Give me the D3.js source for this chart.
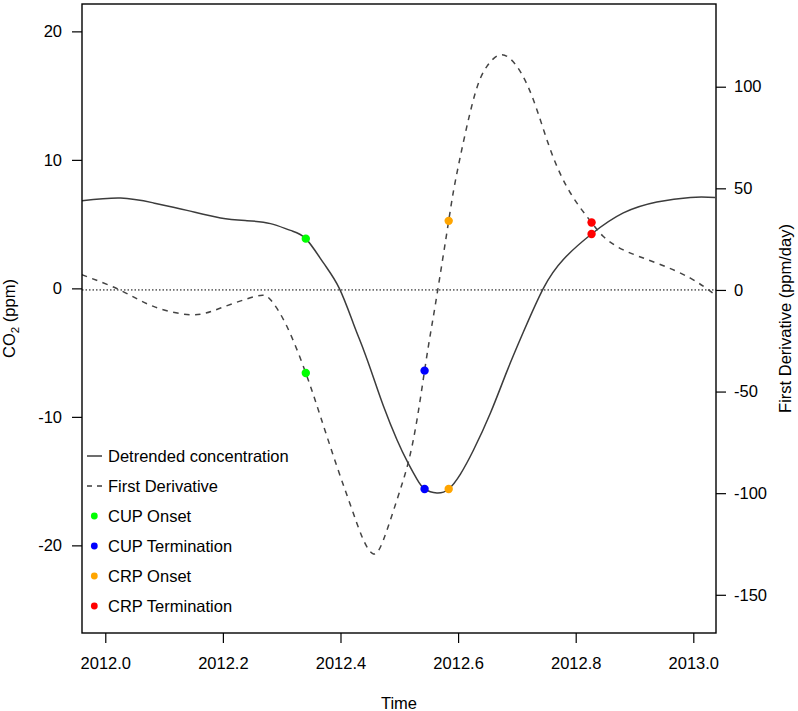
<!DOCTYPE html>
<html>
<head>
<meta charset="utf-8">
<script src="https://cdn.jsdelivr.net/npm/d3@7"></script>
<style>
	body { margin: 0; background: #fff; }
	svg text { font-family: "Liberation Sans", Arial, Helvetica, sans-serif; font-size: 16.5px; fill: #000; }
</style>
</head>
<body>
<svg id="svg"></svg>
<script>
// detrended concentration (ppm)
const concTime = [2011.960, 2012.026, 2012.082, 2012.139, 2012.196, 2012.241, 2012.281, 2012.315,
	2012.341, 2012.371, 2012.398, 2012.422, 2012.439, 2012.456, 2012.473, 2012.496, 2012.515,
	2012.530, 2012.543, 2012.564, 2012.584, 2012.604, 2012.626, 2012.655, 2012.683, 2012.711,
	2012.745, 2012.779, 2012.827, 2012.881, 2012.938, 2012.995, 2013.037];
const concValues = [6.82, 7.03, 6.65, 6.07, 5.48, 5.27, 5.04, 4.51,
	3.87, 1.98, 0.0, -2.75, -4.75, -6.93, -9.15, -11.78, -13.6,
	-14.85, -15.61, -15.92, -15.61, -14.45, -12.6, -9.7, -6.46, -3.4,
	0.0, 2.25, 4.23, 5.87, 6.72, 7.08, 7.08];

// first derivative (ppm/day)
const derivTime = [2011.960, 2012.026, 2012.082, 2012.147, 2012.196, 2012.255, 2012.281, 2012.309,
	2012.341, 2012.366, 2012.394, 2012.422, 2012.439, 2012.456, 2012.473, 2012.496,
	2012.515, 2012.530, 2012.543, 2012.553, 2012.564, 2012.584, 2012.598, 2012.626, 2012.649,
	2012.673, 2012.700, 2012.728, 2012.757, 2012.791, 2012.827, 2012.847, 2012.881, 2012.938,
	2012.995, 2013.037];
const derivValues = [7.5, -0.2, -8.1, -12.2, -8.9, -3.2, -4.8, -18.0,
	-40.9, -62.3, -86.9, -110.0, -123.0, -129.9, -123.0, -103.3,
	-85.2, -64.0, -39.7, -21.5, -2.5, 34.0, 57.5, 93.6, 110.0,
	115.7, 110.0, 93.6, 69.0, 47.7, 33.2, 26.3, 19.7, 13.2,
	5.8, -2.4];

// phenology events
const eventNames = ['CUP Onset', 'CUP Termination', 'CRP Onset', 'CRP Termination'];
const eventColors = ['#00ff00', '#0000ff', '#ffa500', '#ff0000'];
const eventTime = [2012.341, 2012.543, 2012.584, 2012.827];
const eventConc = [3.87, -15.61, -15.61, 4.23];
const eventDeriv = [-40.9, -39.7, 34.0, 33.2];

const xTicks = [2012.0, 2012.2, 2012.4, 2012.6, 2012.8, 2013.0];
const leftTicks = [-20, -10, 0, 10, 20];
const rightTicks = [-150, -100, -50, 0, 50, 100];

const width = 798;
const height = 711;
const margin = { top: 4, right: 82, bottom: 78, left: 82 };
const plotW = width - margin.left - margin.right;
const plotH = height - margin.top - margin.bottom;

const svg = d3.select('#svg').attr('width', width).attr('height', height);

const x = d3.scaleLinear().domain([2011.9604, 2013.0386]).range([0, plotW]);
const yL = d3.scaleLinear().domain([-26.82, 22.13]).range([plotH, 0]);
const yR = d3.scaleLinear().domain([-168.8, 140.7]).range([plotH, 0]);

const g = svg.append('g').attr('transform', `translate(${margin.left},${margin.top})`);

g.append('clipPath').attr('id', 'plot-clip')
	.append('rect').attr('width', plotW).attr('height', plotH);

// zero line (derivative axis)
g.append('line')
	.attr('x1', 0).attr('x2', plotW)
	.attr('y1', yR(0)).attr('y2', yR(0))
	.attr('stroke', '#000').attr('stroke-width', 1)
	.attr('stroke-dasharray', '1.5,2');

const lines = g.append('g').attr('clip-path', 'url(#plot-clip)');

const concLine = d3.line()
	.x(i => x(concTime[i]))
	.y(i => yL(concValues[i]))
	.curve(d3.curveNatural);

const derivLine = d3.line()
	.x(i => x(derivTime[i]))
	.y(i => yR(derivValues[i]))
	.curve(d3.curveNatural);

lines.append('path')
	.attr('d', concLine(d3.range(concTime.length)))
	.attr('fill', 'none')
	.attr('stroke', '#3c3c3c')
	.attr('stroke-width', 1.5);

lines.append('path')
	.attr('d', derivLine(d3.range(derivTime.length)))
	.attr('fill', 'none')
	.attr('stroke', '#444')
	.attr('stroke-width', 1.5)
	.attr('stroke-dasharray', '5.5,5.5');

// event points on both curves
g.selectAll('circle.conc')
		.data(d3.range(eventNames.length))
		.enter()
	.append('circle')
		.attr('class', 'conc')
		.attr('cx', i => x(eventTime[i]))
		.attr('cy', i => yL(eventConc[i]))
		.attr('r', 4.2)
		.attr('fill', i => eventColors[i]);

g.selectAll('circle.deriv')
		.data(d3.range(eventNames.length))
		.enter()
	.append('circle')
		.attr('class', 'deriv')
		.attr('cx', i => x(eventTime[i]))
		.attr('cy', i => yR(eventDeriv[i]))
		.attr('r', 4.2)
		.attr('fill', i => eventColors[i]);

// axes (plain hyphen minus like the original)
const plainNum = d => String(d);

const xAxis = g.append('g')
	.attr('transform', `translate(0,${plotH})`)
	.call(d3.axisBottom(x).tickValues(xTicks).tickFormat(d3.format('.1f'))
		.tickSize(10).tickSizeOuter(0).tickPadding(14.5));

const leftAxis = g.append('g')
	.call(d3.axisLeft(yL).tickValues(leftTicks).tickFormat(plainNum)
		.tickSize(10).tickSizeOuter(0).tickPadding(10));

const rightAxis = g.append('g')
	.attr('transform', `translate(${plotW},0)`)
	.call(d3.axisRight(yR).tickValues(rightTicks).tickFormat(plainNum)
		.tickSize(10).tickSizeOuter(0).tickPadding(8));

[xAxis, leftAxis, rightAxis].forEach(a => {
	a.select('.domain').remove();
	a.selectAll('line').attr('stroke', '#000').attr('stroke-width', 1.2);
	a.selectAll('text').attr('fill', '#000');
	a.attr('font-size', null).attr('font-family', null);
});

// box
g.append('rect')
	.attr('width', plotW).attr('height', plotH)
	.attr('fill', 'none').attr('stroke', '#000').attr('stroke-width', 1.4);

// axis titles
svg.append('text')
	.attr('x', margin.left + plotW / 2)
	.attr('y', 709)
	.attr('text-anchor', 'middle')
	.text('Time');

const leftTitle = svg.append('text')
	.attr('transform', `translate(15,${margin.top + plotH / 2}) rotate(-90)`)
	.attr('text-anchor', 'middle');
leftTitle.append('tspan').text('CO');
leftTitle.append('tspan').attr('font-size', '11.5px').attr('dy', 4).text('2');
leftTitle.append('tspan').attr('dy', -4).text(' (ppm)');

svg.append('text')
	.attr('transform', `translate(791,${margin.top + plotH / 2}) rotate(-90)`)
	.attr('text-anchor', 'middle')
	.text('First Derivative (ppm/day)');

// legend
const legendNames = ['Detrended concentration', 'First Derivative'].concat(eventNames);
const legendG = svg.selectAll('g.legend')
		.data(legendNames)
		.enter()
	.append('g')
		.attr('class', 'legend')
		.attr('transform', (d, i) => `translate(87,${456 + i * 30})`);

legendG.filter((d, i) => i < 2)
	.append('line')
		.attr('x1', 0).attr('x2', 15)
		.attr('stroke', '#3c3c3c')
		.attr('stroke-width', 1.5)
		.attr('stroke-dasharray', (d, i) => i === 1 ? '5,5' : null);

legendG.filter((d, i) => i >= 2)
	.append('circle')
		.attr('cx', 7.3)
		.attr('r', 3.4)
		.attr('fill', (d, i) => eventColors[i]);

legendG.append('text')
	.attr('x', 21)
	.attr('dy', '0.35em')
	.text(d => d);
</script>
</body>
</html>
